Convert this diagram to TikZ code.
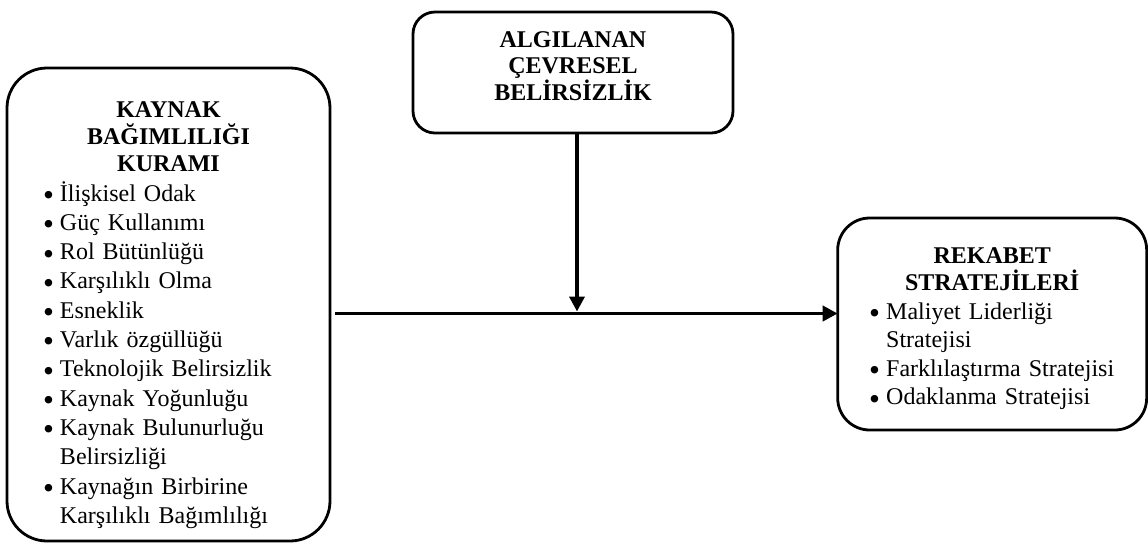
\documentclass[tikz,border=0pt]{standalone}
\usepackage{fontspec}
\usepackage{graphicx}
\setmainfont{Liberation Serif}
\usetikzlibrary{arrows.meta}

\newcommand{\madde}[1]{\par\noindent\hangindent=8.5pt\hangafter=1\makebox[8.5pt][l]{\raisebox{-2.2pt}{\scalebox{1.3}{\textbullet}}}#1}

\begin{document}
\begin{tikzpicture}[x=0.5pt, y=-0.5pt,
            kutu/.style={draw=black, line width=1.4pt, fill=white, outer sep=0pt, anchor=north west},
            ok/.style={black, line width=1.9pt, -{Triangle[length=7.5pt, width=7.5pt]}}]
            \useasboundingbox (0,0) rectangle (1148,543);

            \node[kutu, rounded corners=20pt, text width=125.5pt, inner xsep=18pt, inner ysep=0pt,
                  minimum height=236.5pt, font=\fontsize{12}{14.65}\selectfont] (kaynak) at (7,68)
                  {{\centering\bfseries\fontsize{12}{13.5}\selectfont\rule{0pt}{18.6pt}KAYNAK\\ BAĞIMLILIĞI\\ KURAMI\par}
                   \raggedright
                   \madde{İlişkisel Odak}
                   \madde{Güç Kullanımı}
                   \madde{Rol Bütünlüğü}
                   \madde{Karşılıklı Olma}
                   \madde{Esneklik}
                   \madde{Varlık özgüllüğü}
                   \madde{Teknolojik Belirsizlik}
                   \madde{Kaynak Yoğunluğu}
                   \madde{Kaynak Bulunurluğu\newline Belirsizliği}
                   \madde{Kaynağın Birbirine\newline Karşılıklı Bağımlılığı}\par};

            \node[kutu, rounded corners=11pt, align=center, minimum width=160pt, minimum height=60.5pt,
                  font=\bfseries\fontsize{12}{12.75}\selectfont] (algilanan) at (413,12)
                  {ALGILANAN\\ ÇEVRESEL\\ BELİRSİZLİK\rule[-6pt]{0pt}{6pt}};

            \node[kutu, rounded corners=16pt, text width=123pt, inner xsep=15.75pt, inner ysep=0pt,
                  minimum height=106pt, font=\fontsize{12}{14.3}\selectfont] (rekabet) at (837.7,218)
                  {{\centering\bfseries\fontsize{12}{13.3}\selectfont\rule{0pt}{13pt}REKABET\\ STRATEJİLERİ\par}
                   \raggedright
                   \madde{Maliyet Liderliği\newline Stratejisi}
                   \madde{Farklılaştırma Stratejisi}
                   \madde{Odaklanma Stratejisi}\par};

            \coordinate (bas) at (335,313.5);
            \coordinate (kesisim) at (577,311.5);

            \draw[ok] (bas) -- (bas -| rekabet.west);
            \draw[ok, line width=1.8pt] (algilanan.south -| kesisim) -- (kesisim);
        \end{tikzpicture}
\end{document}
